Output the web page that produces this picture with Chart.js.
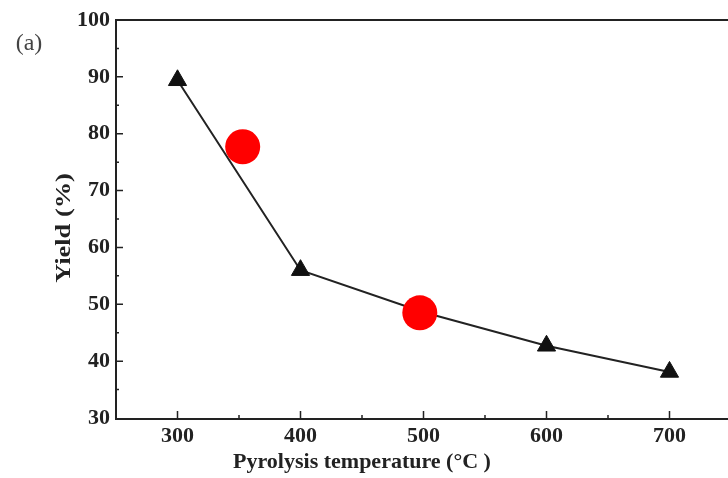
<!DOCTYPE html>
<html>
<head>
<meta charset="utf-8">
<script src="https://cdn.jsdelivr.net/npm/chart.js@4/dist/chart.umd.min.js"></script>
<style>
  html, body { margin: 0; padding: 0; background: #fff; overflow: hidden; }
  #wrap { width: 740px; height: 478px; }
</style>
</head>
<body>
<div id="wrap"><canvas id="chart" width="740" height="478"></canvas></div>
<script>
// data
const temps = [300, 400, 500, 600, 700]
const yields = [89.4, 56.0, 48.6, 42.7, 38.1]
const markX = [353, 497]
const markY = [77.7, 48.5]
const xTicks = [300, 400, 500, 600, 700]
const yTicks = [30, 40, 50, 60, 70, 80, 90, 100]

const serif = '"Liberation Serif", "DejaVu Serif", serif'
const ink = '#222'

// frame, inward ticks and axis titles
const decor = {
    id: 'decor',
    afterDraw(chart) {
        const ctx = chart.ctx
        const a = chart.chartArea
        const xs = chart.scales.x
        const ys = chart.scales.y
        ctx.save()
        ctx.strokeStyle = ink
        ctx.lineWidth = 2
        ctx.beginPath()
        ctx.moveTo(a.left, a.top)
        ctx.lineTo(a.right, a.top)
        ctx.moveTo(a.left, a.top - 1)
        ctx.lineTo(a.left, a.bottom + 1)
        ctx.lineTo(a.right, a.bottom + 1)
        ctx.stroke()
        ctx.lineWidth = 1.5
        ctx.beginPath()
        for (let v = 300; v <= 700; v += 50) {
            const px = xs.getPixelForValue(v)
            const len = v % 100 === 0 ? 7 : 3
            ctx.moveTo(px, a.bottom)
            ctx.lineTo(px, a.bottom - len)
        }
        for (let v = 35; v < 100; v += 5) {
            const py = ys.getPixelForValue(v)
            const len = v % 10 === 0 ? 7 : 3
            ctx.moveTo(a.left, py)
            ctx.lineTo(a.left + len, py)
        }
        ctx.stroke()

        ctx.fillStyle = ink
        ctx.font = 'bold 22px ' + serif
        ctx.textAlign = 'center'
        ctx.textBaseline = 'middle'
        ctx.fillText('Pyrolysis temperature (°C )', 362, 462)
        ctx.save()
        ctx.translate(64, 228)
        ctx.rotate(-Math.PI / 2)
        ctx.scale(1.2, 1)
        ctx.fillText('Yield (%)', 0, 0)
        ctx.restore()
        ctx.font = '24px ' + serif
        ctx.fillStyle = '#444'
        ctx.fillText('(a)', 29, 44)
        ctx.restore()
    }
}

new Chart(document.getElementById('chart'), {
    type: 'line',
    data: {
        datasets: [
            {
                data: temps.map((t, i) => ({ x: t, y: yields[i] })),
                borderColor: ink,
                borderWidth: 2,
                pointStyle: 'triangle',
                pointRadius: 10.5,
                pointBackgroundColor: '#111',
                pointBorderColor: '#111',
                pointBorderWidth: 1,
                tension: 0,
                order: 1
            },
            {
                data: markX.map((t, i) => ({ x: t, y: markY[i] })),
                showLine: false,
                pointRadius: 17.5,
                pointBackgroundColor: '#ff0000',
                pointBorderWidth: 0,
                order: 0
            }
        ]
    },
    options: {
        responsive: false,
        animation: false,
        layout: { autoPadding: false, padding: { top: 20, left: 0, right: 9, bottom: 0 } },
        scales: {
            x: {
                type: 'linear',
                min: 250,
                max: 750,
                afterBuildTicks(scale) {
                    scale.ticks = xTicks.map(v => ({ value: v }))
                },
                afterFit(scale) { scale.height = 60 },
                grid: { display: false, drawTicks: false },
                border: { display: false },
                ticks: {
                    color: ink,
                    padding: 5,
                    font: { family: serif, size: 22, weight: 'bold' }
                }
            },
            y: {
                min: 30,
                max: 100,
                afterBuildTicks(scale) {
                    scale.ticks = yTicks.map(v => ({ value: v }))
                },
                afterFit(scale) { scale.width = 116 },
                grid: { display: false, drawTicks: false },
                border: { display: false },
                ticks: {
                    color: ink,
                    padding: 6,
                    font: { family: serif, size: 22, weight: 'bold' }
                }
            }
        },
        plugins: {
            legend: { display: false },
            tooltip: { enabled: false }
        }
    },
    plugins: [decor]
})
</script>
</body>
</html>
